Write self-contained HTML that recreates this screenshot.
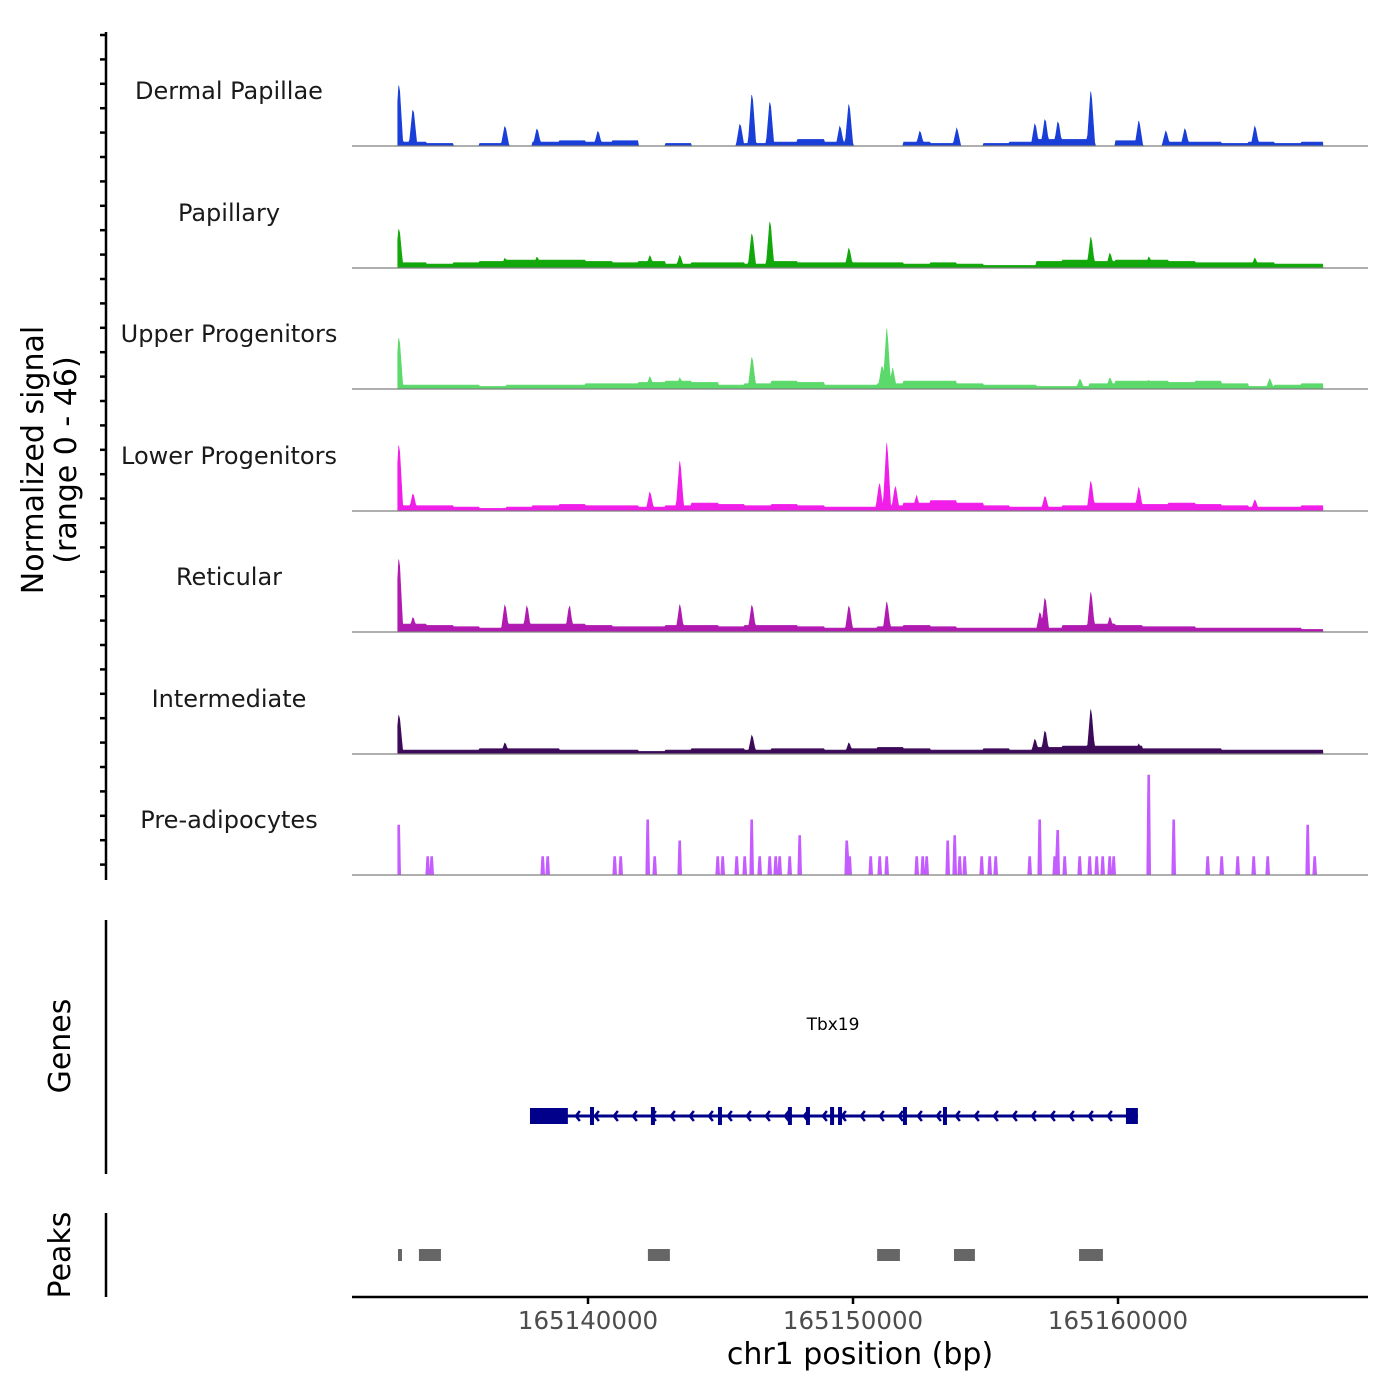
<!DOCTYPE html>
<html><head><meta charset="utf-8"><style>
html,body{margin:0;padding:0;background:#fff;}
svg{display:block;font-family:"DejaVu Sans","Liberation Sans",sans-serif;}
</style></head><body>
<svg id="c" width="1400" height="1400" viewBox="0 0 1400 1400">
<text x="43" y="460" font-size="30" text-anchor="middle" transform="rotate(-90 43 460)">Normalized signal</text>
<text x="76" y="460" font-size="30" text-anchor="middle" transform="rotate(-90 76 460)">(range 0 - 46)</text>
<text x="70" y="1046" font-size="30" text-anchor="middle" transform="rotate(-90 70 1046)">Genes</text>
<text x="70" y="1255" font-size="30" text-anchor="middle" transform="rotate(-90 70 1255)">Peaks</text>
<line x1="106" y1="32" x2="106" y2="880" stroke="#000" stroke-width="2.5"/>
<line x1="106" y1="920" x2="106" y2="1174" stroke="#000" stroke-width="2.5"/>
<line x1="106" y1="1213" x2="106" y2="1297" stroke="#000" stroke-width="2.5"/>
<line x1="352" y1="1297" x2="1368" y2="1297" stroke="#000" stroke-width="2.5"/>
<text x="860" y="1364" font-size="30" text-anchor="middle">chr1 position (bp)</text>
<text x="833" y="1030" font-size="17" text-anchor="middle">Tbx19</text>
<g id="g"></g>
</svg>
<script>
// ---- data ----
const xTicks = [165140000, 165150000, 165160000];
const trackNames = ["Dermal Papillae","Papillary","Upper Progenitors","Lower Progenitors","Reticular","Intermediate","Pre-adipocytes"];
const trackColors = ["#1a3fd9","#12a80b","#5cd96b","#f01ee8","#b01ab0","#3d0a5a","#c45cff"];
// positions in kb offset from 165130000; values in signal units (0-46)
const bgStart = 2.9;
const bgDermal = [1.5,1,0,1,0,1.5,2,1.5,2,0,1,0,0,1,1.5,2.5,1.5,0,0,1.5,1,0,1,1.5,2.5,2.5,0,2,0,1.5,1.5,1,1.5,1,1.5];
const bgPapillary = [2,1.5,2,2.5,3,3,3,2.5,2,2.5,1.5,2,2,1.5,2.5,2,2,2,2,1.5,2,1.5,1,1,2.5,3,2.5,3,3,2.5,2,2,2,1.5,1.5];
const bgUpper = [1.5,1.5,1.5,1,1.5,1.5,1.5,2,2,2.5,3,2.5,1.5,2,3,2.5,1.5,1.5,2,3,3,2,1.5,1.5,1,1,2,3,3,2.5,3,2,1,1.5,2];
const bgLower = [2,2,1.5,1,1.5,2,2.5,2,2,1.5,2,3,2.5,2,2.5,2,1.5,1.5,2,3,4,3,2,1.5,1.5,2,3,3,2.5,3,2.5,2,1.5,1.5,2];
const bgReticular = [3,2.5,2,1.5,3,3,3,2.5,2,2,2.5,2.5,2,2.5,2.5,2,1.5,1.5,2,2.5,2,1.5,1.5,1.5,1.5,2.5,3,2.5,2,2,1.5,1.5,1.5,1.5,1];
const bgIntermediate = [1.5,1.5,1.5,2,2,2,1.5,1.5,1.5,1,1.5,2,2,1.5,2,2,1.5,2,2.5,2,1.5,1.5,2,1.5,2.5,3,3,3,2,2,2,1.5,1.5,1.5,1.5];
const bgPre = [0,0,0,0,0,0,0,0,0,0,0,0,0,0,0,0,0,0,0,0,0,0,0,0,0,0,0,0,0,0,0,0,0,0,0];
const pkDermalPos = [2.87,3.40,6.87,8.08,10.38,15.74,16.19,16.87,19.51,19.85,22.53,23.92,26.87,27.25,27.74,28.98,30.79,31.81,32.53,35.17];
const pkDermalVal = [25,15,8,7,6,9,21,18,8,17,6,7,9,11,10,22,10,6,7,8];
const pkPapillaryPos = [2.87,6.87,8.08,12.34,13.47,16.19,16.87,19.85,28.98,29.70,31.17,35.17];
const pkPapillaryVal = [16,4,4.5,5,5,14,19,8,12.5,6,4.5,4];
const pkUpperPos = [2.87,12.34,13.47,16.19,21.28,21.10,21.50,28.57,29.70,31.17,35.73];
const pkUpperVal = [21,5,4.5,13,24,9.5,8,4,4.5,3.5,4];
const pkLowerPos = [2.87,3.40,12.34,13.47,21.28,21.00,21.60,22.40,27.25,28.98,30.79,35.17];
const pkLowerVal = [27,7,7.6,20,27,11,10,6,6,12,9.5,4.5];
const pkReticularPos = [2.87,3.40,6.87,7.70,9.30,13.47,16.19,19.85,21.28,27.06,27.25,28.98,29.70];
const pkReticularVal = [30,6,11,10.6,10.6,11,11,10.6,12,8,14,16,6];
const pkIntermediatePos = [2.87,6.87,16.19,19.85,26.87,27.25,28.98,30.79];
const pkIntermediateVal = [16,4.5,7.6,4.5,6,9.5,18,4];
const pkPrePos = [2.87,3.96,4.11,8.30,8.49,11.02,11.24,12.26,12.53,13.47,14.91,15.09,15.62,15.92,16.19,16.49,16.87,17.09,17.24,17.62,18.00,19.77,19.89,20.68,21.02,21.28,22.42,22.64,22.79,23.58,23.85,24.04,24.23,24.87,25.17,25.40,26.68,27.06,27.62,27.74,28.00,28.57,28.94,29.21,29.43,29.70,29.85,31.17,32.11,33.40,33.92,34.53,35.13,35.66,37.17,37.43];
const pkPreVal = [19,7,7,7,7,7,7,21,7,13,7,7,7,7,21,7,7,7,7,7,15,13,7,7,7,7,7,7,7,13,15,7,7,7,7,7,7,21,7,17,7,7,7,7,7,7,7,38,21,7,7,7,7,7,19,7];
const bgs = [bgDermal,bgPapillary,bgUpper,bgLower,bgReticular,bgIntermediate,bgPre];
const pkPos = [pkDermalPos,pkPapillaryPos,pkUpperPos,pkLowerPos,pkReticularPos,pkIntermediatePos,pkPrePos];
const pkVal = [pkDermalVal,pkPapillaryVal,pkUpperVal,pkLowerVal,pkReticularVal,pkIntermediateVal,pkPreVal];
const geneStartKb = 7.81, geneEndKb = 30.75;
const geneBigExons = [[7.81,9.24],[30.30,30.75]];
const geneSmallExons = [10.15,12.45,14.98,17.62,18.30,19.21,19.51,21.96,23.47];
const peakRegions = [[2.83,2.98],[3.62,4.45],[12.26,13.09],[20.91,21.77],[23.81,24.60],[28.53,29.43]];

// ---- scales ----
const X0 = 352, BASE = 165130000, PXKB = 26.5, OFF = 1.094;
const xs = kb => X0 + (kb - OFF) * PXKB;
const xbp = bp => xs((bp - BASE) / 1000);
const baselines = [146,268,389,511,632,754,875];
const ys = v => v * 121 / 46;
const NS = "http://www.w3.org/2000/svg";
const g = document.getElementById('g');
function mk(tag, attrs){const e=document.createElementNS(NS,tag);for(const k in attrs)e.setAttribute(k,attrs[k]);g.appendChild(e);return e;}

// y ticks
for(let y=35;y<=880;y+=24.4){
  const t=mk('line',{x1:100,x2:106,y1:y,y2:y,stroke:'#000','stroke-width':2.5});
  
  
}
// x ticks
xTicks.forEach(v=>{
  const x=xbp(v);
  const t=mk('line',{x1:x,x2:x,y1:1297,y2:1304,stroke:'#000','stroke-width':2.5});
  
  
  const l=mk('text',{x:x,y:1329,'font-size':24.5,fill:'#4d4d4d','text-anchor':'middle'});
  l.textContent=String(v);
  
  
});

// tracks
trackNames.forEach((name,i)=>{
  const b=baselines[i];
  const bg=bgs[i], pp=pkPos[i], pv=pkVal[i];
  const pre = i===6;
  const hw = pre?1.6:4;
  const xStart=xs(2.82), xEnd=Math.min(xs(bgStart+bg.length), 1323);
  let d='M'+xStart+','+b;
  for(let x=xStart;x<=xEnd;x+=1){
    const kb=(x-X0)/PXKB+OFF;
    const bi=Math.floor(kb-bgStart);
    let v=(bi>=0&&bi<bg.length)?bg[bi]:0;
    for(let k=0;k<pp.length;k++){
      const dx=Math.abs(x-xs(pp[k]));
      const f=pre?(dx<=hw?1:0):Math.max(0,1-dx/hw);
      v=Math.max(v,pv[k]*f);
    }
    d+=' L'+x.toFixed(1)+','+(b-ys(v)).toFixed(1);
  }
  d+=' L'+xEnd+','+b+' Z';
  const p=mk('path',{d:d,fill:trackColors[i],stroke:trackColors[i],'stroke-width':0.6});
  
  
  const bl=mk('line',{x1:352,x2:1368,y1:b,y2:b,stroke:'#7f7f7f','stroke-width':1.2});
  
  
  const t=mk('text',{x:229,y:b-47,'font-size':24,'text-anchor':'middle',fill:'#1a1a1a'});
  t.textContent=name;
  
  
});

// gene model
const gy=1116, gc='#00008b';
const gl=mk('line',{x1:xs(geneStartKb),x2:xs(geneEndKb),y1:gy,y2:gy,stroke:gc,'stroke-width':3});


for(let x=xs(geneBigExons[0][1])+8;x<xs(geneBigExons[1][0])-4;x+=19){
  const a=mk('polyline',{points:(x+4)+','+(gy-5)+' '+x+','+gy+' '+(x+4)+','+(gy+5),fill:'none',stroke:gc,'stroke-width':2.5});
  
  
}
geneBigExons.forEach(e=>{
  const r=mk('rect',{x:xs(e[0]),y:gy-8,width:xs(e[1])-xs(e[0]),height:16,fill:gc});
  
  
});
geneSmallExons.forEach(e=>{
  const r=mk('rect',{x:xs(e)-2,y:gy-9,width:4,height:18,fill:gc});
  
  
});
// peaks
peakRegions.forEach(e=>{
  const r=mk('rect',{x:xs(e[0]),y:1249,width:xs(e[1])-xs(e[0]),height:12,fill:'#666'});
  
  
});
</script>
</body></html>
